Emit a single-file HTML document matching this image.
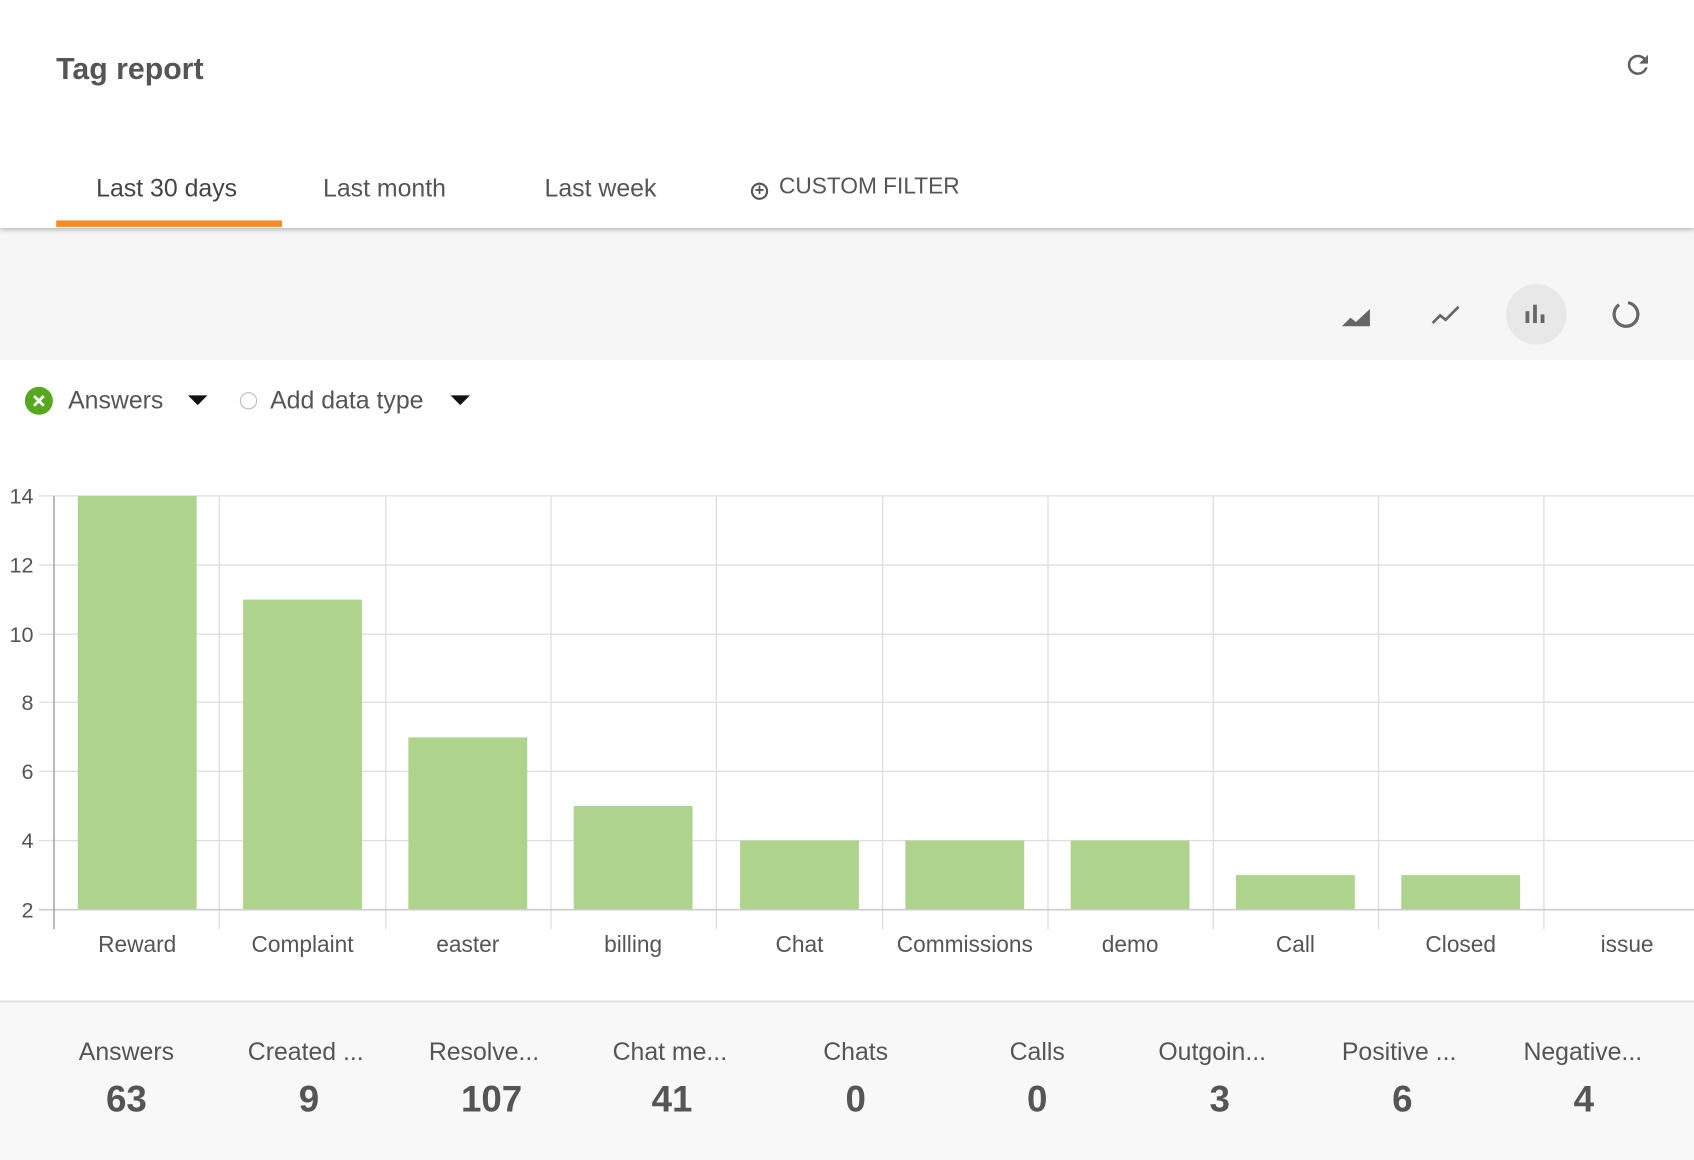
<!DOCTYPE html>
<html><head><meta charset="utf-8"><style>
html,body{margin:0;padding:0;width:1694px;height:1158px;overflow:hidden;background:#fff;}
#w{position:absolute;left:0;top:0;width:1568px;height:1072px;transform:scale(1.0804);transform-origin:0 0;font-family:"Liberation Sans",sans-serif;color:#555;}
.a{position:absolute;white-space:nowrap;}
</style></head><body><div id="w">
<div style="position:absolute;left:0;top:0;width:1568px;height:211px;background:#fff;box-shadow:0 2px 4px rgba(0,0,0,0.25);z-index:2"></div>
<div class="a" style="left:52px;top:48px;font-size:28px;font-weight:bold;color:#555;z-index:3">Tag report</div>
<svg class="a" style="left:1502px;top:46px;z-index:3" width="28" height="28" viewBox="0 0 24 24"><path d="M17.65 6.35A7.958 7.958 0 0 0 12 4a8 8 0 1 0 7.73 10h-2.08A6 6 0 1 1 12 6c1.66 0 3.14.69 4.22 1.78L13 11h7V4l-2.35 2.35z" fill="#5f5f5f"/></svg>
<div class="a" style="left:89px;top:161px;font-size:23px;color:#444;z-index:3">Last 30 days</div>
<div class="a" style="left:299px;top:161px;font-size:23px;color:#555;z-index:3">Last month</div>
<div class="a" style="left:504px;top:161px;font-size:23px;color:#555;z-index:3">Last week</div>
<div class="a" style="left:695px;top:161px;font-size:21px;color:#555;z-index:3"><span style="display:inline-block;width:16px;height:16px;border:2px solid #555;border-radius:50%;position:relative;top:2px;margin-right:10px;box-sizing:border-box;text-align:center;line-height:11px;font-size:15px;font-weight:bold">+</span>CUSTOM FILTER</div>
<div class="a" style="left:52px;top:204px;width:209px;height:6px;background:#f28c28;z-index:3"></div>
<div class="a" style="left:0;top:211px;width:1568px;height:122px;background:#f6f6f6"></div>
<svg class="a" style="left:1240px;top:276px" width="30" height="30" viewBox="0 0 30 30"><path d="M2 26 L10 18 L15 22 L28 10 L28 26 Z" fill="#666"/></svg>
<svg class="a" style="left:1323px;top:276px" width="30" height="30" viewBox="0 0 30 30"><path d="M3 23 L10 16 L15 20 L27 8" fill="none" stroke="#666" stroke-width="2.5"/></svg>
<div class="a" style="left:1394px;top:263px;width:56px;height:56px;border-radius:50%;background:#e8e8e8"></div>
<svg class="a" style="left:1406px;top:276px" width="30" height="30" viewBox="0 0 30 30"><rect x="6" y="12" width="3.5" height="11" fill="#666"/><rect x="13" y="6" width="3.5" height="17" fill="#666"/><rect x="20" y="15" width="3.5" height="8" fill="#666"/></svg>
<svg class="a" style="left:1490px;top:276px" width="30" height="30" viewBox="0 0 30 30"><circle cx="15" cy="15" r="11" fill="none" stroke="#666" stroke-width="3" stroke-dasharray="60 9" transform="rotate(-80 15 15)"/></svg>
<svg class="a" style="left:23px;top:358px" width="26" height="26" viewBox="0 0 26 26"><circle cx="13" cy="13" r="13" fill="#57a81f"/><path d="M8.5 8.5 L17.5 17.5 M17.5 8.5 L8.5 17.5" stroke="#fff" stroke-width="2.6"/></svg>
<div class="a" style="left:63px;top:357px;font-size:23px;color:#555">Answers</div>
<div class="a" style="left:174px;top:366px;width:0;height:0;border-left:9px solid transparent;border-right:9px solid transparent;border-top:9px solid #111"></div>
<div class="a" style="left:222px;top:363px;width:16px;height:16px;border:1.5px solid #bbb;border-radius:50%;box-sizing:border-box"></div>
<div class="a" style="left:250px;top:357px;font-size:23px;color:#555">Add data type</div>
<div class="a" style="left:417px;top:366px;width:0;height:0;border-left:9px solid transparent;border-right:9px solid transparent;border-top:9px solid #111"></div>
<svg class="a" style="left:0;top:0" width="1568" height="926" font-family="Liberation Sans, sans-serif">
<g stroke="#dedede" stroke-width="1.2">
<line x1="36" y1="459" x2="1568" y2="459"/><line x1="36" y1="523" x2="1568" y2="523"/><line x1="36" y1="587" x2="1568" y2="587"/><line x1="36" y1="650" x2="1568" y2="650"/><line x1="36" y1="714" x2="1568" y2="714"/><line x1="36" y1="778" x2="1568" y2="778"/>
<line x1="203" y1="459" x2="203" y2="860"/><line x1="357" y1="459" x2="357" y2="860"/><line x1="510" y1="459" x2="510" y2="860"/><line x1="663" y1="459" x2="663" y2="860"/><line x1="817" y1="459" x2="817" y2="860"/><line x1="970" y1="459" x2="970" y2="860"/><line x1="1123" y1="459" x2="1123" y2="860"/><line x1="1276" y1="459" x2="1276" y2="860"/><line x1="1429" y1="459" x2="1429" y2="860"/>
</g>
<g fill="#add38d">
<rect x="72" y="459" width="110" height="383"/><rect x="225" y="555" width="110" height="287"/><rect x="378" y="682.5" width="110" height="159.5"/><rect x="531" y="746" width="110" height="96"/><rect x="685" y="778" width="110" height="64"/><rect x="838" y="778" width="110" height="64"/><rect x="991" y="778" width="110" height="64"/><rect x="1144" y="810" width="110" height="32"/><rect x="1297" y="810" width="110" height="32"/>
</g>
<line x1="36" y1="842" x2="1568" y2="842" stroke="#ccc" stroke-width="1.5"/>
<line x1="50" y1="459" x2="50" y2="860" stroke="#aaa" stroke-width="1.5"/>
<g font-size="20" fill="#555" text-anchor="end">
<text x="31" y="466">14</text><text x="31" y="530">12</text><text x="31" y="594">10</text><text x="31" y="657">8</text><text x="31" y="721">6</text><text x="31" y="785">4</text><text x="31" y="849">2</text>
</g>
<g font-size="21" fill="#555" text-anchor="middle">
<text x="127" y="881">Reward</text><text x="280" y="881">Complaint</text><text x="433" y="881">easter</text><text x="586" y="881">billing</text><text x="740" y="881">Chat</text><text x="893" y="881">Commissions</text><text x="1046" y="881">demo</text><text x="1199" y="881">Call</text><text x="1352" y="881">Closed</text><text x="1506" y="881">issue</text>
</g>
</svg>
<div class="a" style="left:0;top:926px;width:1568px;height:146px;background:#f8f8f8;border-top:2px solid #e2e2e2"></div>
<svg class="a" style="left:0;top:926px" width="1568" height="146" font-family="Liberation Sans, sans-serif" text-anchor="middle" fill="#555">
<g font-size="23"><text x="117" y="55">Answers</text><text x="283" y="55">Created ...</text><text x="448" y="55">Resolve...</text><text x="620" y="55">Chat me...</text><text x="792" y="55">Chats</text><text x="960" y="55">Calls</text><text x="1122" y="55">Outgoin...</text><text x="1295" y="55">Positive ...</text><text x="1465" y="55">Negative...</text></g>
<g font-size="34" font-weight="bold"><text x="117" y="103">63</text><text x="286" y="103">9</text><text x="455" y="103">107</text><text x="622" y="103">41</text><text x="792" y="103">0</text><text x="960" y="103">0</text><text x="1129" y="103">3</text><text x="1298" y="103">6</text><text x="1466" y="103">4</text></g>
</svg>
</div></body></html>
